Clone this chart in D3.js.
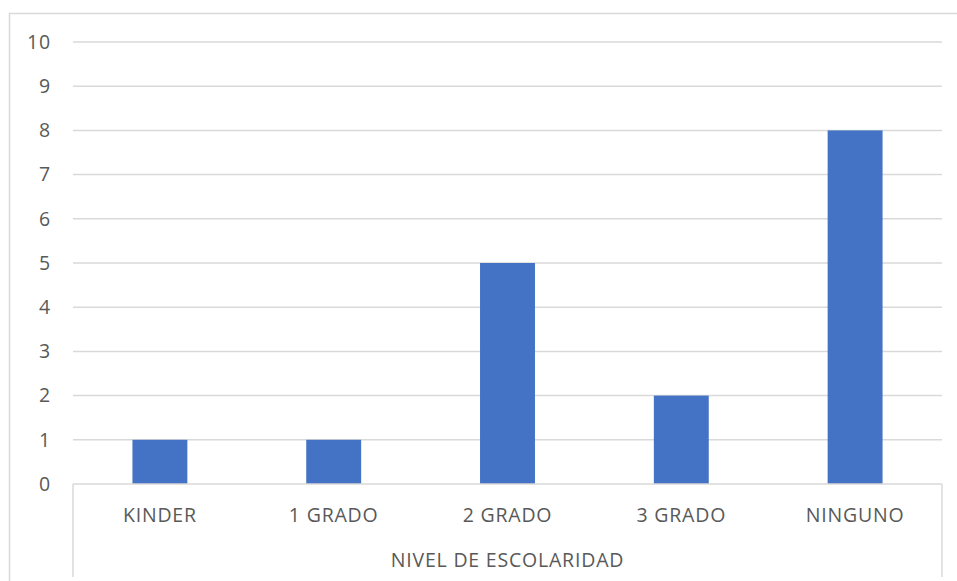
<!DOCTYPE html>
<html>
<head>
<meta charset="utf-8">
<script src="https://cdn.jsdelivr.net/npm/d3@7"></script>
<style>
  html, body { margin: 0; padding: 0; background: #fff; }
  svg { display: block; }
  text { font-family: "Open Sans", "Noto Sans", sans-serif; fill: #595959; }
</style>
</head>
<body>
<svg id="chart" width="957" height="581"></svg>
<script>
// Students by schooling level
const categories = ["KINDER", "1 GRADO", "2 GRADO", "3 GRADO", "NINGUNO"];
const values = [1, 1, 5, 2, 8];
const yTicks = [0, 1, 2, 3, 4, 5, 6, 7, 8, 9, 10];
const axisTitle = "NIVEL DE ESCOLARIDAD";

const svg = d3.select("#chart");
const W = 957, H = 581;
const plot = { left: 73, right: 942, top: 42, bottom: 484 };
const fontSize = "19.5px";

// Outer chart frame (extends past the right and bottom edges)
svg.append("rect")
  .attr("x", 9.5).attr("y", 13.5)
  .attr("width", W + 10).attr("height", H + 10)
  .attr("fill", "none").attr("stroke", "#d9d9d9").attr("stroke-width", 1.5);

const x = d3.scaleBand()
  .domain(categories)
  .range([plot.left, plot.right])
  .paddingInner(0.684)
  .paddingOuter(0.342);

const y = d3.scaleLinear().domain([0, 10]).range([plot.bottom, plot.top]);

// Horizontal gridlines
svg.append("g")
  .selectAll("line")
  .data(yTicks.filter(d => d > 0))
  .join("line")
  .attr("x1", plot.left).attr("x2", plot.right)
  .attr("y1", d => y(d)).attr("y2", d => y(d))
  .attr("stroke", "#d9d9d9").attr("stroke-width", 1.5);

// Y axis labels
const yAxis = d3.axisLeft(y).tickValues(yTicks).tickSize(0).tickPadding(22);
svg.append("g")
  .attr("transform", `translate(${plot.left},0)`)
  .call(yAxis)
  .call(g => g.select(".domain").remove())
  .call(g => g.selectAll("text")
    .attr("fill", "#595959")
    .style("font-size", fontSize)
    .style("letter-spacing", "0.8px")
    .style("font-family", "'Open Sans', sans-serif"));

// Bars
svg.append("g")
  .selectAll("rect")
  .data(categories.map((c, i) => ({ c, v: values[i] })))
  .join("rect")
  .attr("x", d => x(d.c))
  .attr("width", x.bandwidth())
  .attr("y", d => y(d.v))
  .attr("height", d => y(0) - y(d.v))
  .attr("fill", "#4472c4");

// Category axis baseline and group separators
const axisG = svg.append("g");
axisG.append("line")
  .attr("x1", plot.left).attr("x2", plot.right)
  .attr("y1", y(0)).attr("y2", y(0))
  .attr("stroke", "#d9d9d9").attr("stroke-width", 1.5);
[plot.left, plot.right].forEach(px => {
  axisG.append("line")
    .attr("x1", px).attr("x2", px)
    .attr("y1", y(0)).attr("y2", 577)
    .attr("stroke", "#d9d9d9").attr("stroke-width", 1.5);
});

// Category labels
axisG.selectAll("text.cat")
  .data(categories)
  .join("text")
  .attr("class", "cat")
  .attr("x", d => x(d) + x.bandwidth() / 2)
  .attr("y", 522)
  .attr("text-anchor", "middle")
  .style("font-size", fontSize)
  .style("letter-spacing", "0.8px")
  .text(d => d);

// Group title
axisG.append("text")
  .attr("x", (plot.left + plot.right) / 2)
  .attr("y", 567)
  .attr("text-anchor", "middle")
  .style("font-size", fontSize)
  .style("letter-spacing", "0.8px")
  .text(axisTitle);
</script>
</body>
</html>
